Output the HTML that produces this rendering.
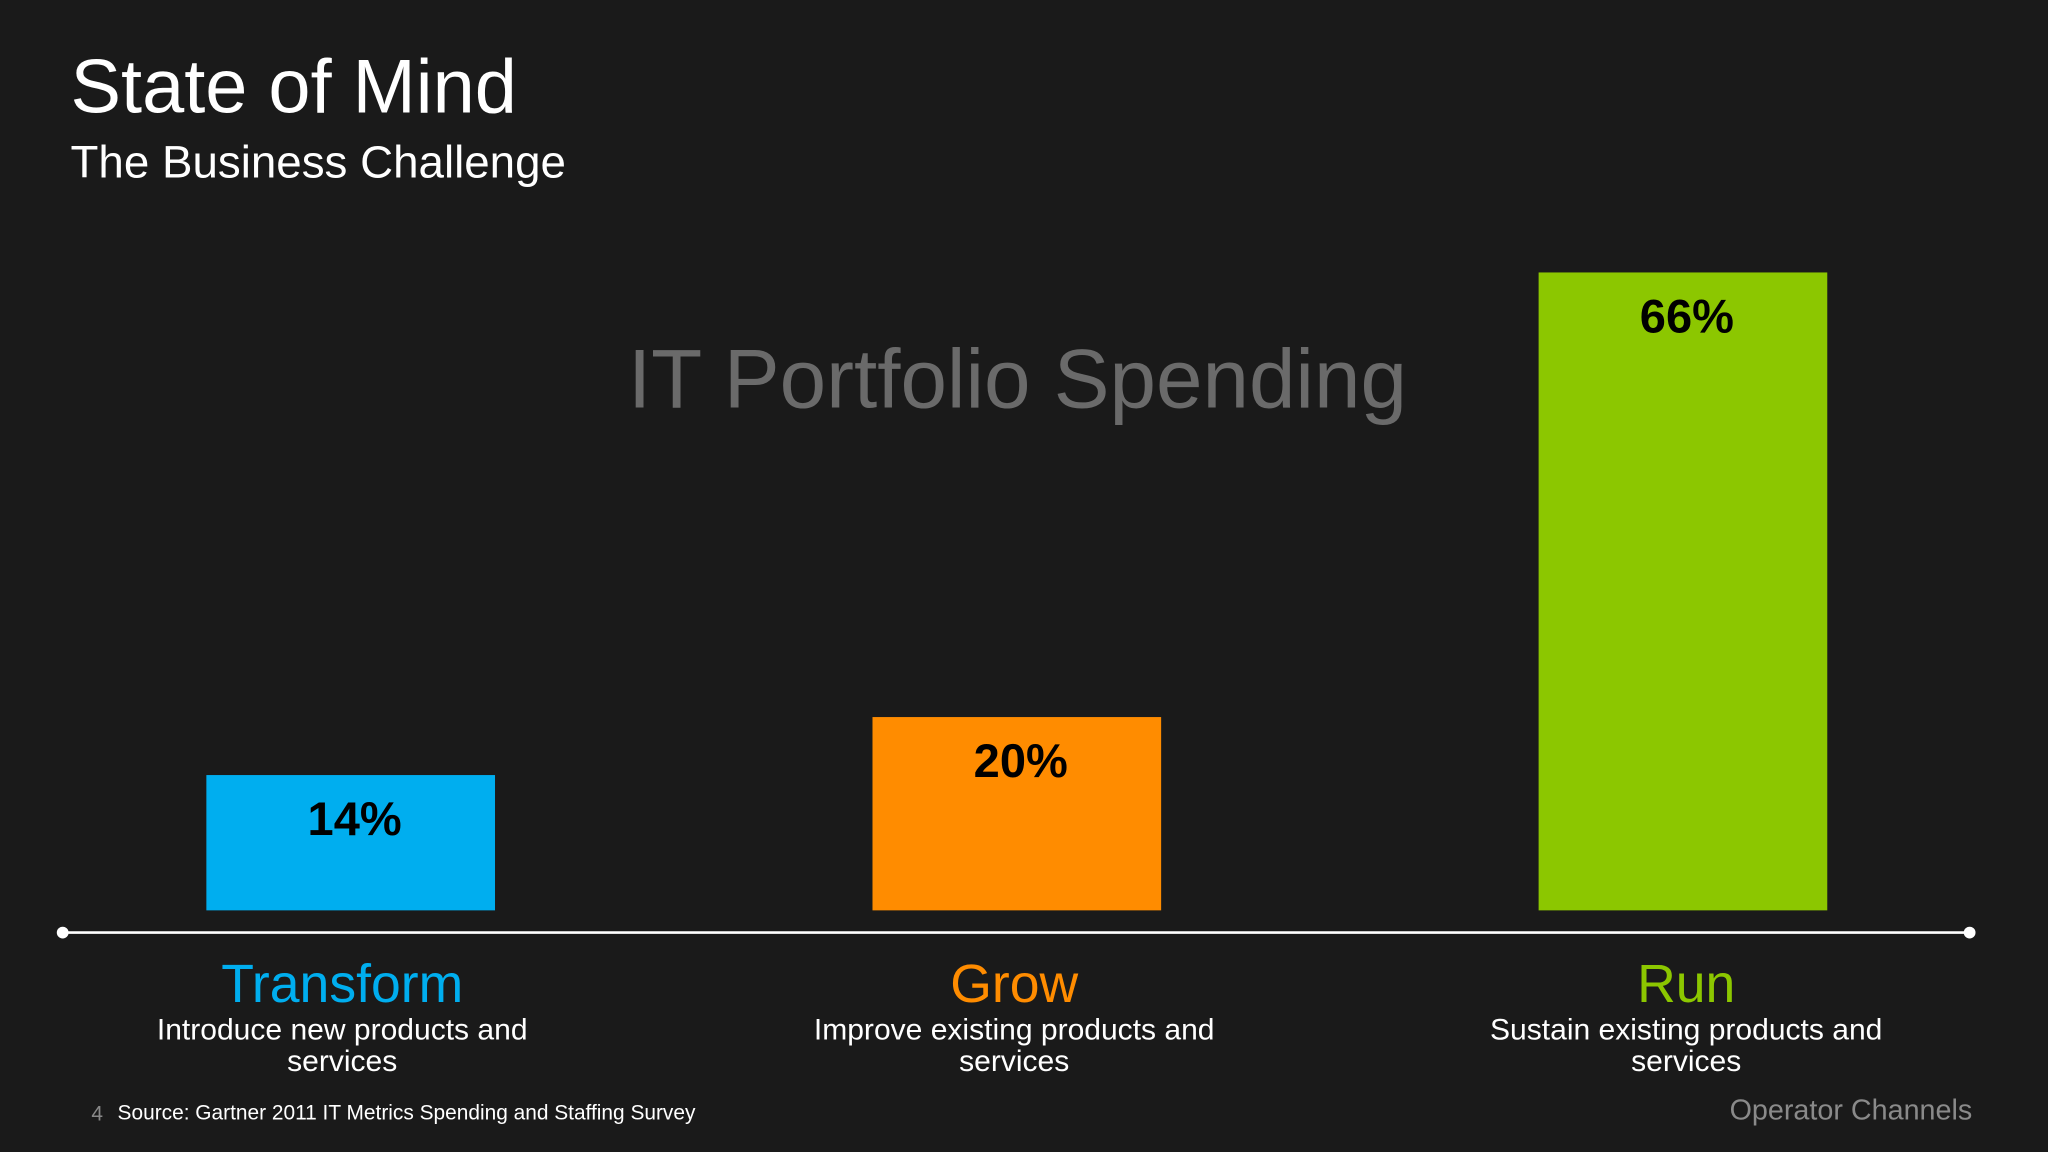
<!DOCTYPE html>
<html><head><meta charset="utf-8"><style>
html,body{margin:0;padding:0;background:#1a1a1a;}
svg{display:block;font-family:"Liberation Sans",sans-serif;}
</style></head><body>
<svg id="chart" width="2048" height="1152" viewBox="0 0 1568 882" xmlns="http://www.w3.org/2000/svg">
<rect width="1568" height="882" fill="#1a1a1a"/>
<text x="54" y="86" font-size="58" fill="#ffffff">State of Mind</text>
<text x="54" y="136" font-size="35" fill="#ffffff">The Business Challenge</text>
<text x="779" y="312" font-size="64" fill="#6a6a6a" text-anchor="middle">IT Portfolio Spending</text>
<line x1="48" y1="714" x2="1508" y2="714" stroke="#ffffff" stroke-width="2"/>
<circle cx="48" cy="714" r="4.5" fill="#fff"/>
<circle cx="1508" cy="714" r="4.5" fill="#fff"/>
<g id="bars"></g>
<text x="70" y="858" font-size="16" fill="#888">4</text>
<text x="90" y="857" font-size="16" fill="#ffffff">Source: Gartner 2011 IT Metrics Spending and Staffing Survey</text>
<text x="1510" y="857" font-size="22" fill="#8a8a8a" text-anchor="end">Operator Channels</text>
</svg>
<script>
const categories = ["Transform", "Grow", "Run"];
const values = [14, 20, 66];
const descLine1 = ["Introduce new products and", "Improve existing products and", "Sustain existing products and"];
const descLine2 = ["services", "services", "services"];
const colors = ["#00aeef", "#ff8c00", "#8cc700"];
const NS = "http://www.w3.org/2000/svg";
const baseY = 697, pxPerPct = 7.4, barW = 221;
const xCenter = i => 268.5 + i * 510;
const labelCenter = i => 262 + i * 514.5;
const yScale = v => baseY - v * pxPerPct;
const g = document.getElementById("bars");
function mk(tag, attrs, txt) {
  const e = document.createElementNS(NS, tag);
  for (const k in attrs) e.setAttribute(k, attrs[k]);
  if (txt !== undefined) e.textContent = txt;
  g.appendChild(e);
  return e;
}
categories.forEach((c, i) => {
  const cx = xCenter(i), top = yScale(values[i]);
  const r = mk("rect", {x: cx - barW / 2, y: top, width: barW, height: baseY - top, fill: colors[i]});
  
  
  const v = mk("text", {x: cx + 3, y: top + 46, "font-size": 36, "font-weight": "bold", fill: "#000", "text-anchor": "middle"}, values[i] + "%");
  
  
  const lc = labelCenter(i);
  const t = mk("text", {x: lc, y: 767, "font-size": 41, fill: colors[i], "text-anchor": "middle"}, c);
  
  
  const d1 = mk("text", {x: lc, y: 796, "font-size": 23, fill: "#fff", "text-anchor": "middle"}, descLine1[i]);
  
  
  const d2 = mk("text", {x: lc, y: 820, "font-size": 23, fill: "#fff", "text-anchor": "middle"}, descLine2[i]);
  
  
});
</script>
</body></html>
